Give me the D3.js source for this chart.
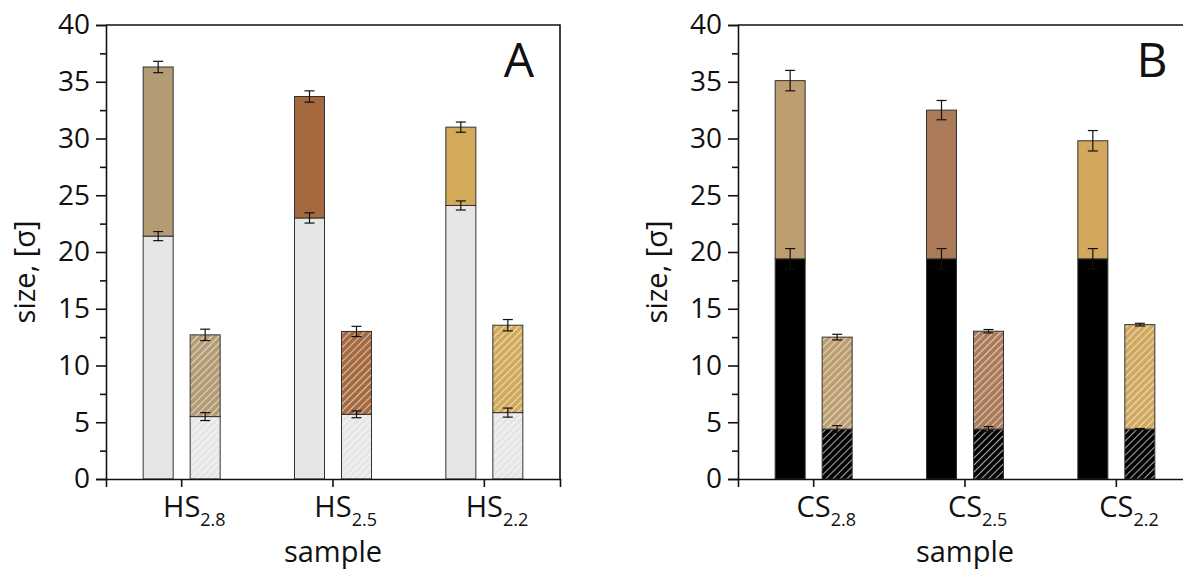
<!DOCTYPE html>
<html>
<head>
<meta charset="utf-8">
<script src="https://cdn.jsdelivr.net/npm/d3@7"></script>
<style>
  body { margin: 0; background: #fff; }
  text { font-family: "Open Sans", Lato, sans-serif; fill: #111; }
</style>
</head>
<body>
<div id="chart"></div>
<script>
// sample names (subscripts) shared by both panels
const subs = ["2.8", "2.5", "2.2"];
const yTicks = [0, 5, 10, 15, 20, 25, 30, 35, 40];

// panel A (HS)
const totalA = [36.3, 33.7, 31.0],
    totalErrA = [0.5, 0.5, 0.45],
    coreA = [21.4, 23.0, 24.1],
    coreErrA = [0.4, 0.45, 0.4],
    smallTotalA = [12.7, 13.0, 13.55],
    smallTotalErrA = [0.5, 0.45, 0.5],
    smallCoreA = [5.5, 5.7, 5.85],
    smallCoreErrA = [0.35, 0.3, 0.4],
    colorsA = ["#b39b74", "#a4693f", "#d3a95a"];

// panel B (CS)
const totalB = [35.1, 32.5, 29.8],
    totalErrB = [0.9, 0.85, 0.9],
    coreB = [19.4, 19.4, 19.4],
    coreErrB = [0.9, 0.9, 0.9],
    smallTotalB = [12.5, 13.02, 13.6],
    smallTotalErrB = [0.25, 0.15, 0.12],
    smallCoreB = [4.4, 4.4, 4.4],
    smallCoreErrB = [0.3, 0.22, 0.05],
    colorsB = ["#bc9e70", "#ab7b59", "#d2a85f"];

const W = 1183, H = 569;
const svg = d3.select('#chart').append('svg')
    .attr('width', W)
    .attr('height', H);
const defs = svg.append('defs');

const hatch = (id, bg, line, op) => {
    const p = defs.append('pattern')
        .attr('id', id)
        .attr('patternUnits', 'userSpaceOnUse')
        .attr('width', 5)
        .attr('height', 5)
        .attr('patternTransform', 'rotate(45)');
    p.append('rect').attr('width', 5).attr('height', 5).attr('fill', bg);
    p.append('line')
        .attr('x1', 2.5).attr('y1', 0).attr('x2', 2.5).attr('y2', 5)
        .attr('stroke', line)
        .attr('stroke-opacity', op)
        .attr('stroke-width', 1.1);
    return `url(#${id})`;
}

const panel = (opts) => {
    const left = opts.left, right = left + 454, top = 25, bottom = 479;
    const g = svg.append('g');

    const x = d3.scaleBand().domain(subs).range([left, right]);
    const y = d3.scaleLinear().domain([0, 40]).range([bottom, top]);
    const bw = 30, off = 23.5;

    const bars = [];
    subs.forEach((s, i) => {
        const cx = x(s) + x.bandwidth() / 2;
        bars.push({ cx: cx - off, y0: 0, y1: opts.core[i], err: opts.coreErr[i], fill: opts.coreFill });
        bars.push({ cx: cx - off, y0: opts.core[i], y1: opts.total[i], err: opts.totalErr[i], fill: opts.colors[i] });
        bars.push({ cx: cx + off, y0: 0, y1: opts.smallCore[i], err: opts.smallCoreErr[i], fill: opts.smallCoreFill });
        bars.push({ cx: cx + off, y0: opts.smallCore[i], y1: opts.smallTotal[i], err: opts.smallTotalErr[i], fill: opts.hatches[i] });
    });

    g.selectAll('rect.bar')
        .data(bars)
        .enter()
        .append('rect')
        .attr('class', 'bar')
        .attr('x', d => d.cx - bw / 2)
        .attr('y', d => y(d.y1))
        .attr('width', bw)
        .attr('height', d => y(d.y0) - y(d.y1))
        .attr('fill', d => d.fill)
        .attr('stroke', '#333')
        .attr('stroke-width', 1);

    // error bars
    const eb = g.selectAll('g.err')
        .data(bars)
        .enter()
        .append('g')
        .attr('class', 'err')
        .attr('stroke', '#111')
        .attr('stroke-width', 1.2);
    eb.append('line')
        .attr('x1', d => d.cx).attr('x2', d => d.cx)
        .attr('y1', d => y(d.y1 - d.err)).attr('y2', d => y(d.y1 + d.err));
    [-1, 1].forEach(sign => {
        eb.append('line')
            .attr('x1', d => d.cx - 5).attr('x2', d => d.cx + 5)
            .attr('y1', d => y(d.y1 + sign * d.err)).attr('y2', d => y(d.y1 + sign * d.err));
    });

    // frame
    g.append('path')
        .attr('d', `M${left},${top}H${right}V${bottom}`)
        .attr('fill', 'none')
        .attr('stroke', '#111')
        .attr('stroke-width', 1.6);

    // y axis
    const yAxis = g.append('g')
        .attr('transform', `translate(${left},0)`)
        .call(d3.axisLeft(y).tickValues(yTicks).tickSize(10).tickPadding(6));
    g.append('g')
        .attr('transform', `translate(${left},0)`)
        .call(d3.axisLeft(y).tickValues(d3.range(2.5, 40, 5)).tickSize(6).tickFormat(''))
        .select('.domain').remove();

    // x axis
    g.append('g')
        .attr('transform', `translate(0,${bottom})`)
        .call(d3.axisBottom(x).tickSize(8).tickFormat(''));

    g.selectAll('.domain').attr('stroke', '#111').attr('stroke-width', 1.6);
    g.selectAll('.tick line').attr('stroke', '#111').attr('stroke-width', 1.6);
    yAxis.selectAll('text')
        .style('font-size', '28px')
        .style('font-family', '"Open Sans", sans-serif')
        .attr('fill', '#111');

    // x tick labels with subscripts
    subs.forEach(s => {
        const cx = x(s) + x.bandwidth() / 2;
        const t = g.append('text')
            .attr('y', 517)
            .style('font-size', '29px');
        const main = t.append('tspan').text(opts.prefix);
        const wMain = main.node().getComputedTextLength();
        t.attr('x', cx - wMain / 2);
        t.append('tspan')
            .attr('dy', 9)
            .style('font-size', '18px')
            .text(s);
    });

    g.append('text')
        .attr('x', (left + right) / 2)
        .attr('y', 562)
        .attr('text-anchor', 'middle')
        .style('font-size', '29px')
        .text('sample');

    g.append('text')
        .attr('transform', `translate(${left - 71},272) rotate(-90)`)
        .attr('text-anchor', 'middle')
        .style('font-size', '29px')
        .text('size, [σ]');

    g.append('text')
        .attr('x', opts.letterX)
        .attr('y', 77)
        .attr('text-anchor', 'middle')
        .style('font-size', '48px')
        .text(opts.letter);
}

panel({
    left: 106, prefix: 'HS', letter: 'A', letterX: 519,
    total: totalA, totalErr: totalErrA, core: coreA, coreErr: coreErrA,
    smallTotal: smallTotalA, smallTotalErr: smallTotalErrA,
    smallCore: smallCoreA, smallCoreErr: smallCoreErrA,
    colors: colorsA, coreFill: '#e6e6e6',
    smallCoreFill: hatch('hA0', '#e6e6e6', '#f8f8f8', 0.9),
    hatches: colorsA.map((c, i) => hatch('hA' + (i + 1), c, '#ffffff', 0.6))
});

panel({
    left: 738, prefix: 'CS', letter: 'B', letterX: 1152,
    total: totalB, totalErr: totalErrB, core: coreB, coreErr: coreErrB,
    smallTotal: smallTotalB, smallTotalErr: smallTotalErrB,
    smallCore: smallCoreB, smallCoreErr: smallCoreErrB,
    colors: colorsB, coreFill: '#000000',
    smallCoreFill: hatch('hB0', '#000000', '#bbbbbb', 0.9),
    hatches: colorsB.map((c, i) => hatch('hB' + (i + 1), c, '#ffffff', 0.6))
});
</script>
</body>
</html>
